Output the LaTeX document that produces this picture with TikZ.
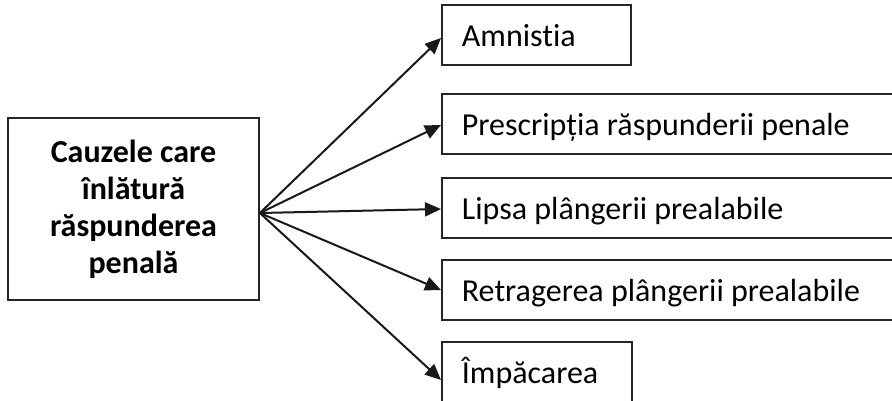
\documentclass[tikz,border=0pt]{standalone}
\usepackage{fontspec}
\setmainfont{Carlito}[Ligatures=NoCommon]
\usetikzlibrary{arrows.meta}
\begin{document}
\begin{tikzpicture}[x=1pt,y=-1pt,
  every node/.style={font=\fontsize{32}{38}\selectfont},
  lbox/.style={draw=black!85, line width=1.8pt, minimum width=251pt, minimum height=182pt,
    align=center, inner sep=0pt, font=\fontsize{32}{37}\selectfont\bfseries},
  rbox/.style={draw=black!85, line width=1.8pt, anchor=west, minimum height=60pt,
    inner xsep=20pt, inner ysep=0pt, text height=22pt, text depth=0pt},
  conn/.style={line width=2pt, black!90, -{Triangle[length=16pt,width=14pt]}}]
\useasboundingbox (0,0) rectangle (892,400);
\clip (0,0) rectangle (892,400);
\fill[white] (0,0) rectangle (892,400);

\node[lbox] (L) at (133.5,209) {Cauzele care\\înlătură\\răspunderea\\penală};

\node[rbox] (a) at (441,35) {\makebox[149pt][l]{Amnistia}};
\node[rbox] (b) at (441,124) {\makebox[430pt][l]{Prescripția răspunderii penale}};
\node[rbox] (c) at (441,208) {\makebox[430pt][l]{Lipsa plângerii prealabile}};
\node[rbox] (d) at (441,290) {\makebox[430pt][l]{Retragerea plângerii prealabile}};
\node[rbox] (e) at (441,372) {\makebox[150pt][l]{Împăcarea}};

\coordinate (src) at ([yshift=-4pt]L.east);
\draw[conn] (src) -- ([yshift=-3pt]a.west);
\draw[conn] (src) -- ([yshift=-1pt]b.west);
\draw[conn] (src) -- ([yshift=-1pt]c.west);
\draw[conn] (src) -- (d.west);
\draw[conn] (src) -- ([yshift=-8pt]e.west);
\end{tikzpicture}
\end{document}
